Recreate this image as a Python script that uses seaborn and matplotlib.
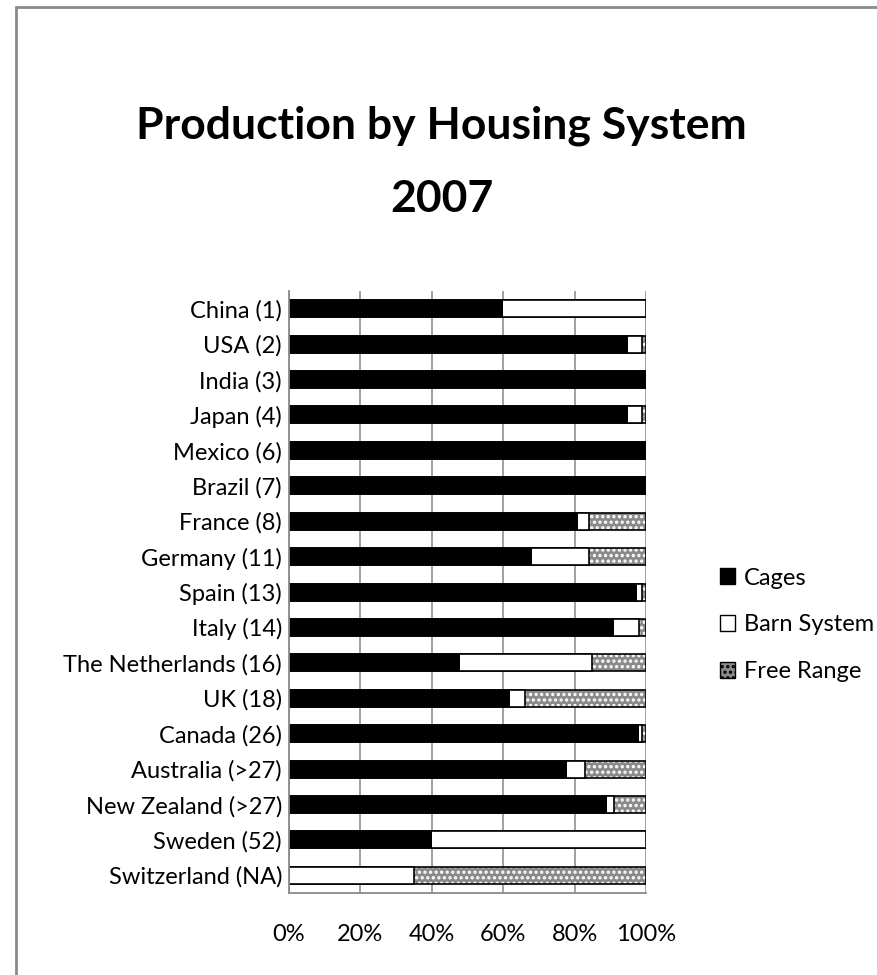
import matplotlib
matplotlib.use("Agg")
import matplotlib.pyplot as plt
from matplotlib.patches import Patch, Rectangle
from matplotlib.ticker import FixedLocator
import pandas as pd
import seaborn as sns

# dados (% da produção por sistema de alojamento, 2007)
paises = [
    "China (1)", "USA (2)", "India (3)", "Japan (4)", "Mexico (6)", "Brazil (7)",
    "France (8)", "Germany (11)", "Spain (13)", "Italy (14)", "The Netherlands (16)",
    "UK (18)", "Canada (26)", "Australia (>27)", "New Zealand (>27)", "Sweden (52)",
    "Switzerland (NA)",
]
gaiolas = [60, 95, 100, 95, 100, 100, 81, 68, 97.5, 91, 48, 62, 98, 78, 89, 40, 0]
celeiro = [40, 4, 0, 4, 0, 0, 3, 16, 1.5, 7, 37, 4, 1, 5, 2, 60, 35]
ar_livre = [0, 1, 0, 1, 0, 0, 16, 16, 1, 2, 15, 34, 1, 17, 9, 0, 65]
ticks_x = [0, 20, 40, 60, 80, 100]
series = ["Cages", "Barn System", "Free Range"]

df = pd.DataFrame({"pais": paises, "gaiolas": gaiolas, "celeiro": celeiro, "ar_livre": ar_livre})
df["g_c"] = df["gaiolas"] + df["celeiro"]
df["total"] = df["g_c"] + df["ar_livre"]

sns.set_style("white")
plt.rcParams["font.family"] = ["Lato", "DejaVu Sans"]
plt.rcParams["text.color"] = "black"
plt.rcParams["hatch.linewidth"] = 1.6

fig = plt.figure(figsize=(8.78, 9.75), dpi=100)
ax = fig.add_axes([0.3292, 0.0841, 0.4066, 0.6174])

cinza = "#8a8a8a"
larg = 0.48
fs = 17

# empilhado por soma acumulada: total (ar livre) atrás, depois celeiro, depois gaiolas
sns.barplot(data=df, y="pais", x="total", orient="h", color=cinza, edgecolor="white",
            linewidth=0, hatch="...", width=larg, errorbar=None, ax=ax)
sns.barplot(data=df, y="pais", x="total", orient="h", fill=False, color="black",
            linewidth=1.2, width=larg, errorbar=None, ax=ax)
sns.barplot(data=df, y="pais", x="g_c", orient="h", color="white", edgecolor="black",
            linewidth=1.2, width=larg, errorbar=None, ax=ax)
sns.barplot(data=df, y="pais", x="gaiolas", orient="h", color="black", edgecolor="black",
            linewidth=0, width=larg, errorbar=None, ax=ax)

ax.set_xlim(0, 100)
ax.set_ylim(len(paises) - 0.5, -0.5)
ax.set_xticks(ticks_x)
ax.set_xticklabels([f"{t}%" for t in ticks_x], fontsize=fs)
ax.set_yticks(range(len(paises)))
ax.set_yticklabels(paises, fontsize=fs)
ax.set_xlabel("")
ax.set_ylabel("")

ax.grid(axis="x", color="#9a9a9a", lw=1.3)
ax.set_axisbelow(True)
for lado in ["top", "right"]:
    ax.spines[lado].set_visible(False)
for lado in ["left", "bottom"]:
    ax.spines[lado].set_color("#8a8a8a")
    ax.spines[lado].set_linewidth(1.3)

ax.yaxis.set_minor_locator(FixedLocator([i - 0.5 for i in range(len(paises) + 1)]))
ax.tick_params(axis="y", which="major", length=0, pad=5, labelcolor="black")
ax.tick_params(axis="y", which="minor", length=5, color="#8a8a8a", width=1.3, direction="out")
ax.tick_params(axis="x", length=5, color="#8a8a8a", width=1.3, direction="out", pad=17,
               labelcolor="black")

handles = [
    Patch(facecolor="black", edgecolor="black", label=series[0]),
    Patch(facecolor="white", edgecolor="black", label=series[1]),
    Patch(facecolor=cinza, edgecolor="black", hatch="...", label=series[2]),
]
fig.legend(handles=handles, loc="center left", bbox_to_anchor=(0.82, 0.359),
           frameon=False, fontsize=fs, handlelength=0.65, handleheight=0.65,
           handletextpad=0.35, labelspacing=1.1, borderpad=0, borderaxespad=0)

fig.text(0.503, 0.871, "Production by Housing System", ha="center", va="center",
         fontsize=32, weight="bold")
fig.text(0.503, 0.796, "2007", ha="center", va="center", fontsize=32, weight="bold")

# moldura do gráfico (cortada à direita e em baixo)
fig.patches.append(Rectangle((16 / 878, -0.1), 1.2, 1.1 - 7 / 975, transform=fig.transFigure,
                             fill=False, edgecolor="#8a8a8a", lw=2, clip_on=False))

fig.savefig("out.png", dpi=100)
